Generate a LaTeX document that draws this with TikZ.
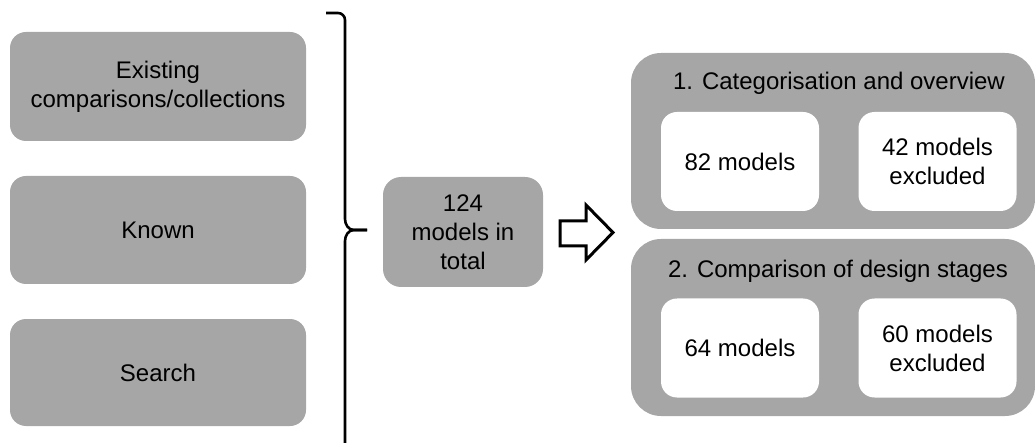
\documentclass[tikz,border=0pt]{standalone}
\usepackage{fontspec}
\setmainfont{Liberation Sans}
\usepackage{tikz}
\usetikzlibrary{calc}
\definecolor{boxgray}{RGB}{166,166,166}

\begin{document}
\begin{tikzpicture}[x=1pt,y=-1pt]
\tikzstyle{src}   = [draw=none,fill=boxgray,rounded corners=16pt,align=center,inner sep=0pt]
\tikzstyle{stage} = [draw=none,fill=boxgray,rounded corners=30pt,inner sep=0pt]
\tikzstyle{res}   = [draw=none,fill=white,rounded corners=16pt,align=center,inner sep=0pt,
                     minimum width=158pt,minimum height=99pt]
\tikzstyle{lbl}   = [align=center,inner sep=0pt]

\useasboundingbox (0,0) rectangle (1035,443);
\begin{scope}[font=\fontsize{24}{29}\selectfont]

% sources
\draw(158,86.5) node[src,minimum width=296pt,minimum height=109pt] (exist) {Existing\\comparisons/collections};
\draw(158,230)  node[src,minimum width=296pt,minimum height=108pt] (known) {Known};
\draw(158,372.5) node[src,minimum width=296pt,minimum height=107pt] (search) {Search};

% brace
\coordinate (bracetip) at (367,230);
\draw[line width=2.6pt,line cap=butt] (326,13) -- (338,13) to[out=0,in=90] (345,20)
  -- (345,219) to[out=-90,in=180] (354,230) -- (bracetip);
\draw[line width=2.6pt] (bracetip) -- (354,230) to[out=180,in=90] (345,241) -- (345,450);

% total
\draw(463,232) node[src,rounded corners=18pt,minimum width=160pt,minimum height=110pt] (total) {124\\models in\\total};

% block arrow
\draw[line width=3pt,line join=miter,fill=white] (560,221) -- (586,221) -- (586,205) -- (613,232.5)
  -- (586,260) -- (586,246) -- (560,246) -- cycle;

% stages
\draw(833,141)   node[stage,minimum width=404pt,minimum height=176pt] (stageA) {};
\draw(833,327.5) node[stage,minimum width=404pt,minimum height=177pt] (stageB) {};
\draw(839,83)  node[lbl] (titleA) {1. Categorisation and overview};
\draw(838,271) node[lbl] (titleB) {2. Comparison of design stages};

\draw(740,161.5)   node[res] (keptA) {82 models};
\draw(937.5,161.5) node[res] (exclA) {42 models\\excluded};
\draw(740,348)     node[res] (keptB) {64 models};
\draw(937.5,348)   node[res] (exclB) {60 models\\excluded};

\end{scope}
\end{tikzpicture}
\end{document}
